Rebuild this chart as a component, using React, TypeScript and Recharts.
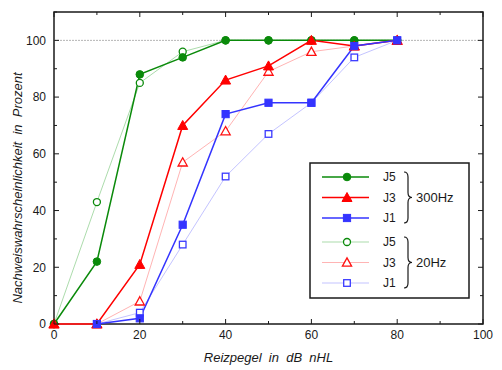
import React from 'react';
import { LineChart, Line, XAxis, YAxis, ReferenceLine, ReferenceArea } from 'recharts';

// stimulus level in dB nHL
const levels = [0, 10, 20, 30, 40, 50, 60, 70, 80];

// detection probability in percent, 300Hz stimulation
const j5At300 = [0, 22, 88, 94, 100, 100, 100, 100, 100];
const j3At300 = [0, 0, 21, 70, 86, 91, 100, 98, 100];
const j1At300 = [null, 0, 2, 35, 74, 78, 78, 98, 100];

// detection probability in percent, 20Hz stimulation
const j5At20 = [0, 43, 85, 96, 100, 100, 100, 100, 100];
const j3At20 = [0, 0, 8, 57, 68, 89, 96, 98, 100];
const j1At20 = [null, 0, 4, 28, 52, 67, 78, 94, 100];

const xTicks = [0, 10, 20, 30, 40, 50, 60, 70, 80, 90, 100];
const yTicks = [0, 10, 20, 30, 40, 50, 60, 70, 80, 90, 100, 110];

type Shape = 'circle' | 'triangle' | 'square';

interface SeriesDef {
  key: string;
  label: string;
  color: string;
  lineColor: string;
  lineWidth: number;
  shape: Shape;
  filled: boolean;
}

const series20: SeriesDef[] = [
  { key: 'j5_20', label: 'J5', color: '#0a8a0a', lineColor: '#acdcac', lineWidth: 1, shape: 'circle', filled: false },
  { key: 'j3_20', label: 'J3', color: '#ff1010', lineColor: '#ffb4b4', lineWidth: 1, shape: 'triangle', filled: false },
  { key: 'j1_20', label: 'J1', color: '#3a3aff', lineColor: '#c4c4ff', lineWidth: 1, shape: 'square', filled: false },
];

const series300: SeriesDef[] = [
  { key: 'j5_300', label: 'J5', color: '#0a8a0a', lineColor: '#0a8a0a', lineWidth: 1.5, shape: 'circle', filled: true },
  { key: 'j3_300', label: 'J3', color: '#ff0000', lineColor: '#ff0000', lineWidth: 1.5, shape: 'triangle', filled: true },
  { key: 'j1_300', label: 'J1', color: '#3434ff', lineColor: '#3434ff', lineWidth: 1.5, shape: 'square', filled: true },
];

const rows = levels.map((level, i) => ({
  level,
  j5_300: j5At300[i],
  j3_300: j3At300[i],
  j1_300: j1At300[i],
  j5_20: j5At20[i],
  j3_20: j3At20[i],
  j1_20: j1At20[i],
}));

// plot box edges, used for the mirrored inward ticks
const PLOT = { left: 54, right: 483, top: 12, bottom: 324 };
const INK = '#1a1a1a';
const FONT = '"Liberation Sans", Arial, sans-serif';

function MarkerGlyph({ cx, cy, shape, color, filled }: { cx: number; cy: number; shape: Shape; color: string; filled: boolean }) {
  const fill = filled ? color : '#fff';
  const sw = filled ? 1 : 1.3;
  if (shape === 'circle') {
    const r = filled ? 3.8 : 3.5;
    return <circle cx={cx} cy={cy} r={r} fill={fill} stroke={color} strokeWidth={sw} />;
  }
  if (shape === 'triangle') {
    const h = filled ? 5 : 4.6;
    return (
      <path
        d={`M${cx},${cy - h} L${cx + h},${cy + h * 0.8} L${cx - h},${cy + h * 0.8} Z`}
        fill={fill}
        stroke={color}
        strokeWidth={sw}
      />
    );
  }
  const s = filled ? 3.6 : 3.3;
  return <rect x={cx - s} y={cy - s} width={s * 2} height={s * 2} fill={fill} stroke={color} strokeWidth={sw} />;
}

function makeDot(def: SeriesDef) {
  return (props: any) => {
    const { cx, cy, index } = props;
    if (cx == null || cy == null || props.value == null) return <g key={`${def.key}-${index}`} />;
    return (
      <g key={`${def.key}-${index}`}>
        <MarkerGlyph cx={cx} cy={cy} shape={def.shape} color={def.color} filled={def.filled} />
      </g>
    );
  };
}

function XTick(props: any) {
  const { x, y, payload } = props;
  const v = payload.value;
  const major = v % 20 === 0;
  const len = major ? 5 : 3;
  return (
    <g>
      <line x1={x} x2={x} y1={PLOT.bottom} y2={PLOT.bottom - len} stroke={INK} strokeWidth={1} />
      <line x1={x} x2={x} y1={PLOT.top} y2={PLOT.top + len} stroke={INK} strokeWidth={1} />
      {major && (
        <text x={x} y={y} dy="0.36em" textAnchor="middle" fontSize={12} fill={INK} fontFamily={FONT}>
          {v}
        </text>
      )}
    </g>
  );
}

function YTick(props: any) {
  const { x, y, payload } = props;
  const v = payload.value;
  const major = v % 20 === 0 && v <= 100;
  const len = v % 20 === 0 ? 5 : 3;
  return (
    <g>
      <line x1={PLOT.left} x2={PLOT.left + len} y1={y} y2={y} stroke={INK} strokeWidth={1} />
      <line x1={PLOT.right} x2={PLOT.right - len} y1={y} y2={y} stroke={INK} strokeWidth={1} />
      {major && (
        <text x={x} y={y} dy="0.36em" textAnchor="end" fontSize={12} fill={INK} fontFamily={FONT}>
          {v}
        </text>
      )}
    </g>
  );
}

function YLabel(props: any) {
  const vb = props.viewBox || { x: 0, y: PLOT.top, height: PLOT.bottom - PLOT.top };
  const cx = vb.x + 17;
  const cy = vb.y + vb.height / 2 + 20;
  return (
    <text
      x={cx}
      y={cy}
      transform={`rotate(-90 ${cx} ${cy})`}
      textAnchor="middle"
      dominantBaseline="central"
      fontSize={13}
      fontStyle="italic"
      fill={INK}
      fontFamily={FONT}
      style={{ whiteSpace: 'pre' }}
    >
      {'Nachweiswahrscheinlichkeit  in  Prozent'}
    </text>
  );
}

function XLabel() {
  return (
    <text
      x={(PLOT.left + PLOT.right) / 2}
      y={PLOT.bottom + 33}
      textAnchor="middle"
      dominantBaseline="central"
      fontSize={13}
      fontStyle="italic"
      fill={INK}
      fontFamily={FONT}
      style={{ whiteSpace: 'pre' }}
    >
      {'Reizpegel  in  dB  nHL'}
    </text>
  );
}

function Brace({ x, top, bottom }: { x: number; top: number; bottom: number }) {
  const mid = (top + bottom) / 2;
  return (
    <path
      d={`M${x - 4},${top} Q${x},${top} ${x},${top + 5} L${x},${mid - 5} Q${x},${mid} ${x + 4},${mid} Q${x},${mid} ${x},${mid + 5} L${x},${bottom - 5} Q${x},${bottom} ${x - 4},${bottom}`}
      fill="none"
      stroke={INK}
      strokeWidth={1.2}
    />
  );
}

function LegendBox() {
  const box = { x: 310, y: 163, w: 159, h: 135 };
  const groups = [
    { items: series300, top: box.y + 14, name: '300Hz' },
    { items: series20, top: box.y + 79, name: '20Hz' },
  ];
  return (
    <svg width={502} height={370} style={{ position: 'absolute', left: 0, top: 0, pointerEvents: 'none' }}>
      <rect x={box.x} y={box.y} width={box.w} height={box.h} fill="#fff" stroke={INK} strokeWidth={1.5} />
      {groups.map((g) => (
        <g key={g.name}>
          {g.items.map((s, i) => {
            const y = g.top + i * 20.5;
            return (
              <g key={s.key}>
                <line x1={box.x + 12} x2={box.x + 59} y1={y} y2={y} stroke={s.lineColor} strokeWidth={s.filled ? 1.5 : 1.2} />
                <MarkerGlyph cx={box.x + 37} cy={y} shape={s.shape} color={s.color} filled={s.filled} />
                <text x={box.x + 73} y={y} dy="0.36em" fontSize={12} fill={INK} fontFamily={FONT}>
                  {s.label}
                </text>
              </g>
            );
          })}
          <Brace x={box.x + 98} top={g.top - 5} bottom={g.top + 46} />
          <text x={box.x + 106} y={g.top + 20.5} dy="0.36em" fontSize={13} fill={INK} fontFamily={FONT}>
            {g.name}
          </text>
        </g>
      ))}
    </svg>
  );
}

export default function App() {
  return (
    <div style={{ position: 'absolute', left: 0, top: 0, width: 502, height: 370, background: '#fff' }}>
      <LineChart width={502} height={370} data={rows} margin={{ top: 12, right: 19, left: 0, bottom: 0 }}>
        <XAxis
          dataKey="level"
          type="number"
          domain={[0, 100]}
          ticks={xTicks}
          interval={0}
          height={46}
          tickSize={0}
          tickMargin={11}
          tickLine={false}
          axisLine={false}
          tick={<XTick />}
          label={<XLabel />}
        />
        <YAxis
          type="number"
          domain={[0, 110]}
          ticks={yTicks}
          interval={0}
          width={54}
          tickSize={0}
          tickMargin={8}
          tickLine={false}
          axisLine={false}
          tick={<YTick />}
          label={<YLabel />}
        />
        <ReferenceLine y={100} stroke="#b4b4b4" strokeDasharray="2 1" strokeWidth={1} />
        <ReferenceArea x1={0} x2={100} y1={0} y2={110} fill="none" stroke={INK} strokeWidth={1.5} />
        {[...series20, ...series300].map((s) => (
          <Line
            key={s.key}
            dataKey={s.key}
            type="linear"
            stroke={s.lineColor}
            strokeWidth={s.lineWidth}
            dot={makeDot(s)}
            activeDot={false}
            isAnimationActive={false}
          />
        ))}
      </LineChart>
      <LegendBox />
    </div>
  );
}
